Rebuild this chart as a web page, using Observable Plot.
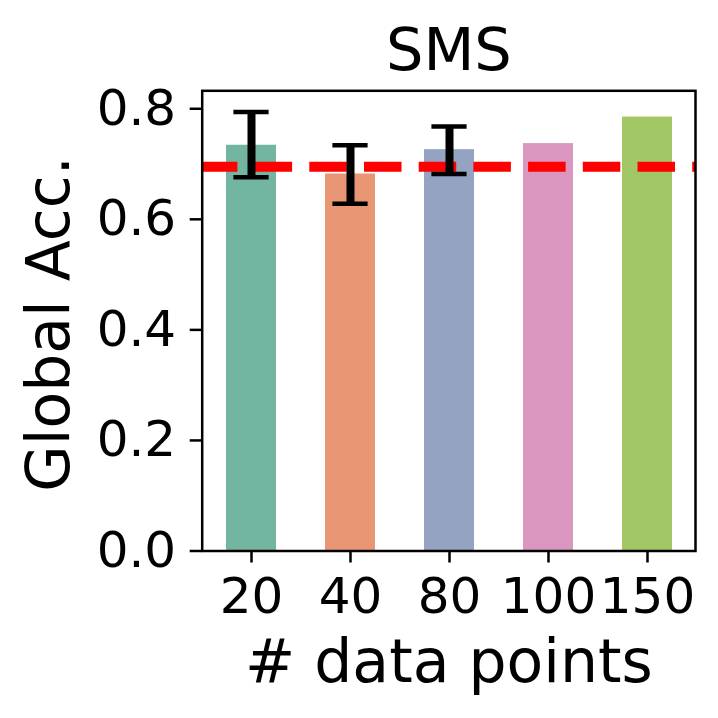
<!DOCTYPE html>
<html>
<head>
<meta charset="utf-8">
<script src="https://cdn.jsdelivr.net/npm/d3@7"></script>
<script src="https://cdn.jsdelivr.net/npm/@observablehq/plot@0.6"></script>
<style>
  html, body { margin: 0; padding: 0; background: white; overflow: hidden; }
</style>
</head>
<body>
<div id="chart"></div>
<script>
const title = "SMS";
const xLabel = "# data points";
const yLabel = "Global Acc.";
const categories = ["20", "40", "80", "100", "150"];
const accuracy = [0.734, 0.682, 0.726, 0.737, 0.785];
const errCategories = ["20", "40", "80"];
const errLow = [0.676, 0.628, 0.682];
const errHigh = [0.794, 0.734, 0.768];
const baseline = 0.695;
const yTicks = [0, 0.2, 0.4, 0.6, 0.8];
const colors = ["#72b6a1", "#e99675", "#95a3c3", "#db96c0", "#a2c865"];

const bars = categories.map((c, i) => ({cat: c, val: accuracy[i]}));
const errs = errCategories.map((c, i) => ({cat: c, lo: errLow[i], hi: errHigh[i]}));

const W = 718, H = 718;
const mL = 201.7, mR = 23, mT = 90.3, mB = 167.5;

const chart = Plot.plot({
  width: W,
  height: H,
  marginLeft: mL,
  marginRight: mR,
  marginTop: mT,
  marginBottom: mB,
  style: {fontFamily: "DejaVu Sans", color: "black", background: "white"},
  x: {type: "band", domain: categories, paddingInner: 0.5, paddingOuter: 0.225, align: 0.5, label: null},
  y: {domain: [0, 0.8325], label: null},
  color: {domain: categories, range: colors},
  marks: [
    Plot.barY(bars, {x: "cat", y: "val", fill: "cat"}),
    Plot.ruleY([baseline], {stroke: "#ff0000", strokeWidth: 10, strokeDasharray: "37.5,17.2", strokeDashoffset: 1.8}),
    Plot.ruleX(errs, {x: "cat", y1: "lo", y2: "hi", stroke: "black", strokeWidth: 8}),
    Plot.tickY(errs, {x: "cat", y: "lo", stroke: "black", strokeWidth: 4.5, insetLeft: 7.4, insetRight: 7.4}),
    Plot.tickY(errs, {x: "cat", y: "hi", stroke: "black", strokeWidth: 4.5, insetLeft: 7.4, insetRight: 7.4}),
    Plot.frame({stroke: "black", strokeWidth: 2.5}),
    Plot.axisY({ticks: yTicks, tickFormat: d3.format(".1f"), fontSize: 50, tickSize: 12, tickPadding: 14, strokeWidth: 2.5, label: null}),
    Plot.axisX({fontSize: 50, tickSize: 12, tickPadding: 14, strokeWidth: 2.5, label: null}),
    Plot.text([yLabel], {frameAnchor: "left", dx: 68 - mL, dy: 3, rotate: -90, lineAnchor: "bottom", textAnchor: "middle", fontSize: 60, fill: "black"}),
    Plot.text([xLabel], {frameAnchor: "bottom", dy: 131.2, lineAnchor: "bottom", textAnchor: "middle", fontSize: 60, fill: "black"}),
    Plot.text([title], {frameAnchor: "top", dy: -21, lineAnchor: "bottom", textAnchor: "middle", fontSize: 59, fill: "black"})
  ]
});

document.getElementById("chart").appendChild(chart);
</script>
</body>
</html>
